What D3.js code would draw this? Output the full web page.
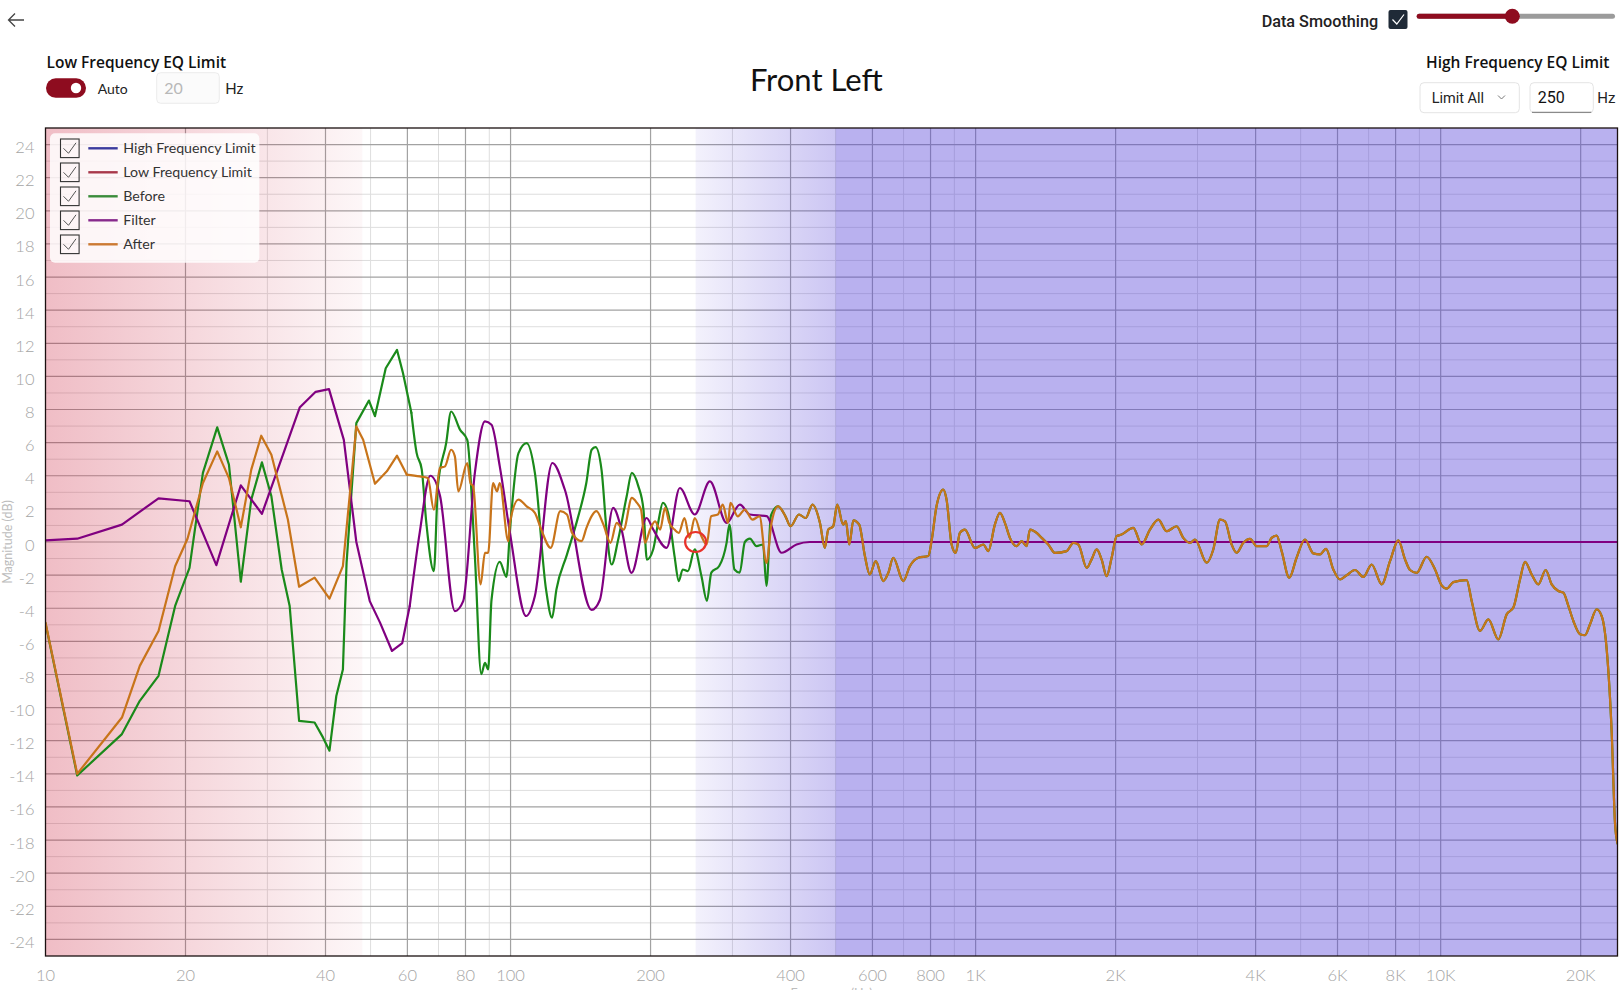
<!DOCTYPE html>
<html><head><meta charset="utf-8">
<script src="https://cdn.jsdelivr.net/npm/d3@7"></script>
<style>
html,body{margin:0;padding:0;background:#fff;overflow:hidden;}
svg{display:block;}
</style></head>
<body>
<svg id="chart" width="1620" height="990"></svg>
<script>
// ---------------- data ----------------
const chartTitle = "Front Left";
const xTickValues = [10,20,40,60,80,100,200,400,600,800,1000,2000,4000,6000,8000,10000,20000];
const xTickLabels = ["10","20","40","60","80","100","200","400","600","800","1K","2K","4K","6K","8K","10K","20K"];
const yTickValues = [24,22,20,18,16,14,12,10,8,6,4,2,0,-2,-4,-6,-8,-10,-12,-14,-16,-18,-20,-22,-24];
const freqDomain = [10, 24000];
const dbDomain = [-25, 25];
const lowLimitBand = [10, 48];          // pink fading region (Hz)
const highLimitBand = [250, 500, 24000]; // gradient start, solid start, end (Hz)
const highFreqLimit = 250;
const lowFreqLimit = 20;

const legendNames  = ["High Frequency Limit","Low Frequency Limit","Before","Filter","After"];
const legendColors = ["#3b3b9e","#a8384a","#3a8c3a","#872a8c","#cc7a33"];

// Filter curve [Hz, dB]
const filterCurve = [[10,0.1],[11.7,0.2],[14.6,1.05],[17.5,2.64],[20.4,2.46],[23.3,-1.4],[26.3,3.42],[29.2,1.7],
 [35.2,8.12],[38.1,9.07],[40.7,9.23],[43.8,6.17],[46.6,0],[49.8,-3.57],[52.4,-4.87],[55.6,-6.58],[58.5,-6.1],
 [60.7,-3.87],[63.8,0.6],[67.2,4.0],[70.5,2.8],[75.9,-4.17],[79.1,-3.57],[83.8,4.17],[88.1,7.28],[91.0,7.08],
 [94.8,4.57],[99.7,0.55],[108,-4.47],[112.8,-3.26],[123,4.77],[130.8,3.17],[149.4,-4.1],[155.6,-3.5],
 [166.2,2.06],[173.2,0.76],[182,-1.86],[196.1,1.45],[202.6,0.76],[216.5,-0.35],[231.2,3.26],[248.9,1.66],
 [268.3,3.66],[291.4,1.15],[311.2,2.26],[327,1.66],[355.2,1.56],[382.7,-0.65],[412,-0.15],[440,0],[24000,0]];

// Before (measured) curve, low part [Hz, dB]
const beforeLow = [[10,-4.9],[11.7,-14.1],[14.6,-11.6],[15.95,-9.59],[17.5,-8.08],[19.0,-3.86],[20.4,-1.56],
 [21.8,4.17],[23.4,6.92],[24.8,4.67],[26.3,-2.4],[27.7,2.56],[29.2,4.81],[30.6,2.76],[32.2,-1.66],[33.5,-3.87],
 [35.1,-10.8],[37.9,-10.9],[39.5,-11.8],[40.8,-12.6],[42.2,-9.3],[43.6,-7.7],[44.4,-1.26],[46.6,7.18],
 [49.6,8.54],[51.1,7.6],[53.9,10.49],[57.0,11.6],[58.7,10.2],[61.2,7.8],[62.8,5.38],[64.4,4.4],[65.9,1.15],
 [68.4,-1.76],[69.8,3.41],[72.7,5.97],[74.5,7.88],[77.9,6.77],[80.7,6.17],[83.8,-0.85],[86.5,-7.98],
 [88.1,-7.3],[89.5,-7.7],[91.0,-3.5],[94.8,-1.2],[98,-2.1],[99.7,0.7],[104,5.37],[108.3,5.97],[112.8,4.17],
 [119.2,-2.86],[122.8,-4.57],[125.5,-2.86],[132.2,-0.76],[139.2,1.35],[145.5,3.56],[149.4,5.57],[152.3,5.73],
 [156.9,4.36],[160.8,0.75],[164.9,-1.36],[170.4,0.15],[177.7,2.76],[182.3,4.17],[188.3,3.36],[193.1,1.95],
 [196.4,-1.06],[202.6,-0.45],[207.6,1.15],[212.6,2.36],[219,1.56],[225.2,-0.85],[230,-2.36],[234.5,-1.66],
 [240.6,-1.76],[248.9,-0.45],[257.3,-2.06],[264.4,-3.56],[270.2,-1.85],[281,-1.45],[291.4,-0.05],[295.5,1.05],
 [303,-1.66],[311,-1.85],[319,0],[327,0.2],[338,-0.25],[349,-0.15],[355,-2.65],[363,1.6]];

// After (corrected) curve, low part [Hz, dB]
const afterLow = [[10,-4.87],[11.7,-14.0],[14.6,-10.6],[15.95,-7.48],[17.5,-5.37],[19.0,-1.46],[20.2,0.2],
 [21.8,3.56],[23.4,5.47],[24.8,3.86],[26.3,0.89],[27.7,4.37],[29.1,6.42],[30.6,5.27],[33.2,1.36],[35.1,-2.7],
 [37.9,-2.15],[40.8,-3.42],[43.6,-1.46],[46.6,6.98],[48.2,6.17],[51.1,3.52],[54.2,4.27],[57.0,5.21],[59.8,4.07],
 [63.8,3.96],[66.4,3.86],[68.4,1.95],[70.5,4.47],[72.3,4.57],[74.5,5.57],[75.9,5.17],[77.2,3.06],[80.7,4.77],
 [82,3.56],[83.1,3.36],[86.2,-2.56],[88.1,-0.66],[89.5,-0.66],[91.7,3.56],[93.5,3.06],[94.8,3.56],[98.9,0.05],
 [99.7,1.15],[104,2.56],[108.3,2.15],[112.8,1.76],[116.4,0.75],[122,-0.35],[127.9,1.86],[132.2,1.66],
 [135.6,0.55],[142.1,0.05],[145.6,0.85],[149.4,1.56],[153,1.86],[158.4,1.05],[164,-0.05],[169.1,1.15],
 [175,0.75],[182.3,2.66],[187,2.36],[190.8,1.96],[194.6,-0.05],[199.5,0.75],[204.5,1.25],[209.7,0.75],
 [214.9,2.06],[219.5,1.15],[225.2,0.75],[230,0.55],[236.6,1.45],[242.5,0.25],[248.9,1.45],[257.3,0.35],
 [264,-0.15],[270,1.55],[279,1.66],[286,2.26],[293.5,1.15],[297,2.36],[308,1.55],[319,1.96],[331,1.35],
 [343,1.55],[355,-1.26],[364,1.15]];

// Above the EQ range Before and After coincide: shared upper part [Hz, dB]
const sharedHigh = [[376,2.16],[390,1.55],[400,0.95],[417,1.66],[431,1.45],[446,2.26],
 [462.6,1.16],[474,-0.36],[482,0.75],[494,0.95],[504,2.26],[519,1.05],[526,1.26],[535,-0.15],[546,1.31],
 [562,1.05],[578,-0.85],[592,-1.96],[610,-1.15],[633,-2.36],[649,-1.86],[665,-0.95],[699,-2.36],[722,-1.46],
 [753,-0.95],[791,-0.85],[804,0.05],[824,2.16],[852,3.16],[866,2.56],[888,-0.15],[906,-0.66],[925,0.55],
 [948,0.75],[997,-0.36],[1039,-0.15],[1065,-0.55],[1100,1.05],[1128,1.76],[1156,1.16],[1185,0.25],
 [1225,-0.25],[1256,0.05],[1287,-0.25],[1309,0.75],[1353,0.55],[1387,0.25],[1433,-0.15],[1481,-0.66],
 [1569,-0.55],[1622,-0.05],[1663,-0.15],[1733,-1.56],[1776,-1.05],[1821,-0.45],[1866,-1.05],[1913,-2.06],
 [1961,-0.95],[2010,0.35],[2060,0.45],[2183,0.85],[2275,-0.15],[2371,0.75],[2471,1.35],[2575,0.65],
 [2705,0.95],[2796,0.25],[2890,-0.05],[2963,0.15],[3139,-1.25],[3244,-0.45],[3353,1.35],[3437,1.25],
 [3552,-0.15],[3641,-0.65],[3764,-0.05],[3890,0.19],[4021,-0.25],[4223,-0.25],[4330,0.25],[4439,0.39],
 [4550,-0.55],[4725,-2.16],[4900,-0.95],[5107,0.15],[5323,-0.69],[5502,-0.75],[5668,-0.41],[5877,-1.66],
 [6075,-2.26],[6278,-2.01],[6543,-1.69],[6819,-2.11],[7106,-1.36],[7467,-2.56],[7781,-1.16],[8109,0.1],
 [8382,-1.05],[8592,-1.69],[8880,-1.86],[9331,-0.89],[9724,-1.66],[10050,-2.62],[10302,-2.82],[10647,-2.42],
 [11374,-2.3],[11659,-3.56],[12150,-5.37],[12662,-4.67],[13304,-5.88],[13864,-4.37],[14330,-3.96],
 [14811,-2.26],[15182,-1.2],[15692,-1.96],[16219,-2.56],[16819,-1.69],[17327,-2.56],[17908,-2.96],
 [18357,-3.06],[18817,-3.86],[19289,-4.77],[19936,-5.57],[20436,-5.63],[20947,-4.97],[21651,-4.06],
 [22194,-4.47],[22750,-6.48],[23320,-11.5],[23708,-17.0],[24000,-18.2]];

const beforeCurve = beforeLow.concat(sharedHigh);
const afterCurve = afterLow.concat(sharedHigh);

// ---------------- layout ----------------
const M = {left:45.5, right:1617.5, top:128, bottom:956};
const svg = d3.select("#chart");
const uiFont = "Lato, 'Noto Sans', 'Open Sans', sans-serif";
const boldFont = "'Open Sans', 'Noto Sans', Lato, sans-serif";
const x = d3.scaleLog().domain(freqDomain).range([M.left, M.right]);
const y = d3.scaleLinear().domain(dbDomain).range([M.bottom, M.top]);

const defs = svg.append("defs");
defs.append("clipPath").attr("id","plotClip").append("rect")
  .attr("x",M.left).attr("y",M.top).attr("width",M.right-M.left).attr("height",M.bottom-M.top);

const pinkGrad = defs.append("linearGradient").attr("id","pinkGrad")
  .attr("gradientUnits","userSpaceOnUse")
  .attr("x1",x(lowLimitBand[0])).attr("x2",x(lowLimitBand[1])).attr("y1",0).attr("y2",0);
pinkGrad.append("stop").attr("offset",0).attr("stop-color","rgb(200,20,50)").attr("stop-opacity",0.28);
pinkGrad.append("stop").attr("offset",1).attr("stop-color","rgb(200,20,50)").attr("stop-opacity",0.035);

const blueGrad = defs.append("linearGradient").attr("id","blueGrad")
  .attr("gradientUnits","userSpaceOnUse")
  .attr("x1",x(highLimitBand[0])).attr("x2",x(highLimitBand[1])).attr("y1",0).attr("y2",0);
blueGrad.append("stop").attr("offset",0).attr("stop-color","rgb(85,65,215)").attr("stop-opacity",0.07);
blueGrad.append("stop").attr("offset",1).attr("stop-color","rgb(85,65,215)").attr("stop-opacity",0.3);

const plot = svg.append("g");
plot.append("rect").attr("x",M.left).attr("y",M.top).attr("width",M.right-M.left)
  .attr("height",M.bottom-M.top).attr("fill","#fff");

// grid
const majorSet = new Set(xTickValues);
const xGrid = x.ticks().filter(v => v > freqDomain[0] && v < freqDomain[1]);
plot.append("g").selectAll("line").data(xGrid.filter(v=>!majorSet.has(v))).join("line")
  .attr("x1",d=>x(d)).attr("x2",d=>x(d)).attr("y1",M.top).attr("y2",M.bottom)
  .attr("stroke","#dedede").attr("stroke-width",1);
const yGrid = d3.range(dbDomain[0]+1, dbDomain[1]);
plot.append("g").selectAll("line").data(yGrid.filter(v=>Math.abs(v)%2===1)).join("line")
  .attr("x1",M.left).attr("x2",M.right).attr("y1",d=>y(d)).attr("y2",d=>y(d))
  .attr("stroke","#dedede").attr("stroke-width",1);
plot.append("g").selectAll("line").data(xGrid.filter(v=>majorSet.has(v))).join("line")
  .attr("x1",d=>x(d)).attr("x2",d=>x(d)).attr("y1",M.top).attr("y2",M.bottom)
  .attr("stroke","#a2a2a2").attr("stroke-width",1.2);
plot.append("g").selectAll("line").data(yGrid.filter(v=>Math.abs(v)%2===0)).join("line")
  .attr("x1",M.left).attr("x2",M.right).attr("y1",d=>y(d)).attr("y2",d=>y(d))
  .attr("stroke","#a2a2a2").attr("stroke-width",1.2);

// limit overlays
plot.append("rect").attr("x",x(lowLimitBand[0])).attr("y",M.top)
  .attr("width",x(lowLimitBand[1])-x(lowLimitBand[0])).attr("height",M.bottom-M.top)
  .attr("fill","url(#pinkGrad)");
plot.append("rect").attr("x",x(highLimitBand[0])).attr("y",M.top)
  .attr("width",x(highLimitBand[1])-x(highLimitBand[0])).attr("height",M.bottom-M.top)
  .attr("fill","url(#blueGrad)");
plot.append("rect").attr("x",x(highLimitBand[1])).attr("y",M.top)
  .attr("width",x(highLimitBand[2])-x(highLimitBand[1])).attr("height",M.bottom-M.top)
  .attr("fill","rgb(85,65,215)").attr("fill-opacity",0.41);

// curves
const curves = svg.append("g").attr("clip-path","url(#plotClip)");
function drawSeries(data, color, split) {
  const lo = data.filter(d => d[0] <= split);
  const hi = data.filter(d => d[0] >= lo[lo.length-1][0]);
  const lin = d3.line().x(d=>x(d[0])).y(d=>y(d[1])).curve(d3.curveLinear);
  const smooth = d3.line().x(d=>x(d[0])).y(d=>y(d[1])).curve(d3.curveMonotoneX);
  [[lo,lin],[hi,smooth]].forEach(([pts,gen]) => {
    curves.append("path").attr("d",gen(pts)).attr("fill","none").attr("stroke",color)
      .attr("stroke-width",2.2).attr("stroke-linejoin","round").attr("stroke-linecap","round");
  });
}
drawSeries(beforeCurve, "#1a8a1a", 62);
drawSeries(filterCurve, "#800080", 62);
drawSeries(afterCurve, "#c8741a", 62);

// high frequency limit marker
curves.append("ellipse").attr("cx",x(highFreqLimit)).attr("cy",y(0)).attr("rx",10.5).attr("ry",10)
  .attr("fill","none").attr("stroke","#e8312a").attr("stroke-width",2.2);

// border
svg.append("rect").attr("x",M.left).attr("y",M.top).attr("width",M.right-M.left)
  .attr("height",M.bottom-M.top).attr("fill","none").attr("stroke","#1a1010").attr("stroke-width",1.3);

// axis labels
const tickFont = "Lato, 'Noto Sans', sans-serif";
svg.append("g").selectAll("text").data(yTickValues).join("text")
  .attr("x",34.5).attr("y",d=>y(d)+8.5).attr("text-anchor","end")
  .attr("font-family",tickFont).attr("font-weight",300).attr("font-size",16.5).attr("fill","#a4a4a4")
  .text(d=>d);
svg.append("g").selectAll("text").data(xTickValues).join("text")
  .attr("x",d=>x(d)).attr("y",980.5).attr("text-anchor","middle")
  .attr("font-family",tickFont).attr("font-weight",300).attr("font-size",16.5).attr("fill","#a4a4a4")
  .text((d,i)=>xTickLabels[i]);
svg.append("text").attr("transform",`translate(11.5,${(M.top+M.bottom)/2}) rotate(-90)`)
  .attr("text-anchor","middle").attr("font-family",tickFont).attr("font-size",12.5)
  .attr("fill","#bdbdbd").text("Magnitude (dB)");
svg.append("text").attr("x",(M.left+M.right)/2).attr("y",997.5).attr("text-anchor","middle")
  .attr("font-family",tickFont).attr("font-size",12.5).attr("fill","#bdbdbd").text("Frequency (Hz)");

// legend
const lg = svg.append("g");
lg.append("rect").attr("x",50).attr("y",133.3).attr("width",209.3).attr("height",129.4).attr("rx",5)
  .attr("fill","#fff").attr("fill-opacity",0.84);
legendNames.forEach((name,i) => {
  const cy = 148.3 + i*24;
  const g = lg.append("g");
  g.append("rect").attr("x",60.5).attr("y",cy-9.3).attr("width",18.6).attr("height",18.6)
    .attr("fill","none").attr("stroke","#333").attr("stroke-width",1.1);
  g.append("path").attr("d",`M${63.5},${cy} L${68.5},${cy+5} L${76},${cy-5.5}`)
    .attr("fill","none").attr("stroke","#555").attr("stroke-width",1);
  g.append("line").attr("x1",88.3).attr("x2",117.7).attr("y1",cy).attr("y2",cy)
    .attr("stroke",legendColors[i]).attr("stroke-width",2.4);
  g.append("text").attr("x",123.3).attr("y",cy+5).attr("font-family",uiFont).attr("font-size",14.2)
    .attr("fill","#333").text(name);
});

// ---------------- header controls ----------------
const hdr = svg.append("g");
// back arrow
hdr.append("path").attr("d","M24,20 L8.5,20 M15,13.5 L8.5,20 L15,26.5")
  .attr("fill","none").attr("stroke","#444").attr("stroke-width",1.3);
// title
hdr.append("text").attr("x",816.3).attr("y",91).attr("text-anchor","middle")
  .attr("font-family",uiFont).attr("font-size",31).attr("fill","#111").text(chartTitle);
// low frequency block
hdr.append("text").attr("x",46.5).attr("y",67.5).attr("font-family",boldFont).attr("font-weight",600)
  .attr("font-size",15.5).attr("fill","#111").text("Low Frequency EQ Limit");
hdr.append("rect").attr("x",46).attr("y",78.3).attr("width",40).attr("height",19.5).attr("rx",9.75)
  .attr("fill","#8e0c1f");
hdr.append("circle").attr("cx",76).attr("cy",88).attr("r",5.2).attr("fill","#fff");
hdr.append("text").attr("x",97.7).attr("y",94).attr("font-family",uiFont).attr("font-size",14)
  .attr("fill","#222").text("Auto");
hdr.append("rect").attr("x",156.7).attr("y",72.7).attr("width",62.6).attr("height",30.6).attr("rx",4)
  .attr("fill","#fbfbfb").attr("stroke","#ececec");
hdr.append("text").attr("x",164.3).attr("y",94.3).attr("font-family",uiFont).attr("font-size",16)
  .attr("fill","#b8b8b8").text(lowFreqLimit);
hdr.append("text").attr("x",225.3).attr("y",94.3).attr("font-family",uiFont).attr("font-size",15)
  .attr("fill","#222").text("Hz");
// data smoothing
const robo = "Roboto, 'Noto Sans', sans-serif";
hdr.append("text").attr("x",1261.7).attr("y",26.5).attr("font-family",robo).attr("font-weight",500)
  .attr("font-size",16.2).attr("fill","#222").text("Data Smoothing");
hdr.append("rect").attr("x",1388.5).attr("y",10).attr("width",19).attr("height",19).attr("rx",2)
  .attr("fill","#1f2a37");
hdr.append("path").attr("d","M1392.5,19.5 L1396.8,24 L1404,14.5").attr("fill","none")
  .attr("stroke","#fff").attr("stroke-width",1.2);
hdr.append("rect").attr("x",1416.7).attr("y",13.7).attr("width",198.3).attr("height",5).attr("rx",2.5)
  .attr("fill","#9b9b9b");
hdr.append("rect").attr("x",1416.7).attr("y",13.7).attr("width",95.6).attr("height",5).attr("rx",2.5)
  .attr("fill","#8e0c1f");
hdr.append("circle").attr("cx",1512.3).attr("cy",16.2).attr("r",7.5).attr("fill","#8e0c1f");
// high frequency block
hdr.append("text").attr("x",1426).attr("y",67.5).attr("font-family",boldFont).attr("font-weight",600)
  .attr("font-size",15.5).attr("fill","#111").text("High Frequency EQ Limit");
hdr.append("rect").attr("x",1420).attr("y",82.7).attr("width",99.3).attr("height",30).attr("rx",4)
  .attr("fill","#fff").attr("stroke","#e4e4e4");
hdr.append("text").attr("x",1431.7).attr("y",103).attr("font-family",robo).attr("font-size",14.5)
  .attr("fill","#222").text("Limit All");
hdr.append("path").attr("d","M1498,95.5 L1501.5,99 L1505,95.5").attr("fill","none")
  .attr("stroke","#777").attr("stroke-width",1);
hdr.append("rect").attr("x",1530).attr("y",82.7).attr("width",63.3).attr("height",30).attr("rx",4)
  .attr("fill","#fff").attr("stroke","#e4e4e4");
hdr.append("line").attr("x1",1532).attr("x2",1591.3).attr("y1",112.4).attr("y2",112.4)
  .attr("stroke","#8a8a8a").attr("stroke-width",1.2);
hdr.append("text").attr("x",1537.7).attr("y",103.3).attr("font-family",robo).attr("font-size",16)
  .attr("fill","#111").text(highFreqLimit);
hdr.append("text").attr("x",1597.3).attr("y",103.3).attr("font-family",robo).attr("font-size",15)
  .attr("fill","#222").text("Hz");
</script>
</body></html>
